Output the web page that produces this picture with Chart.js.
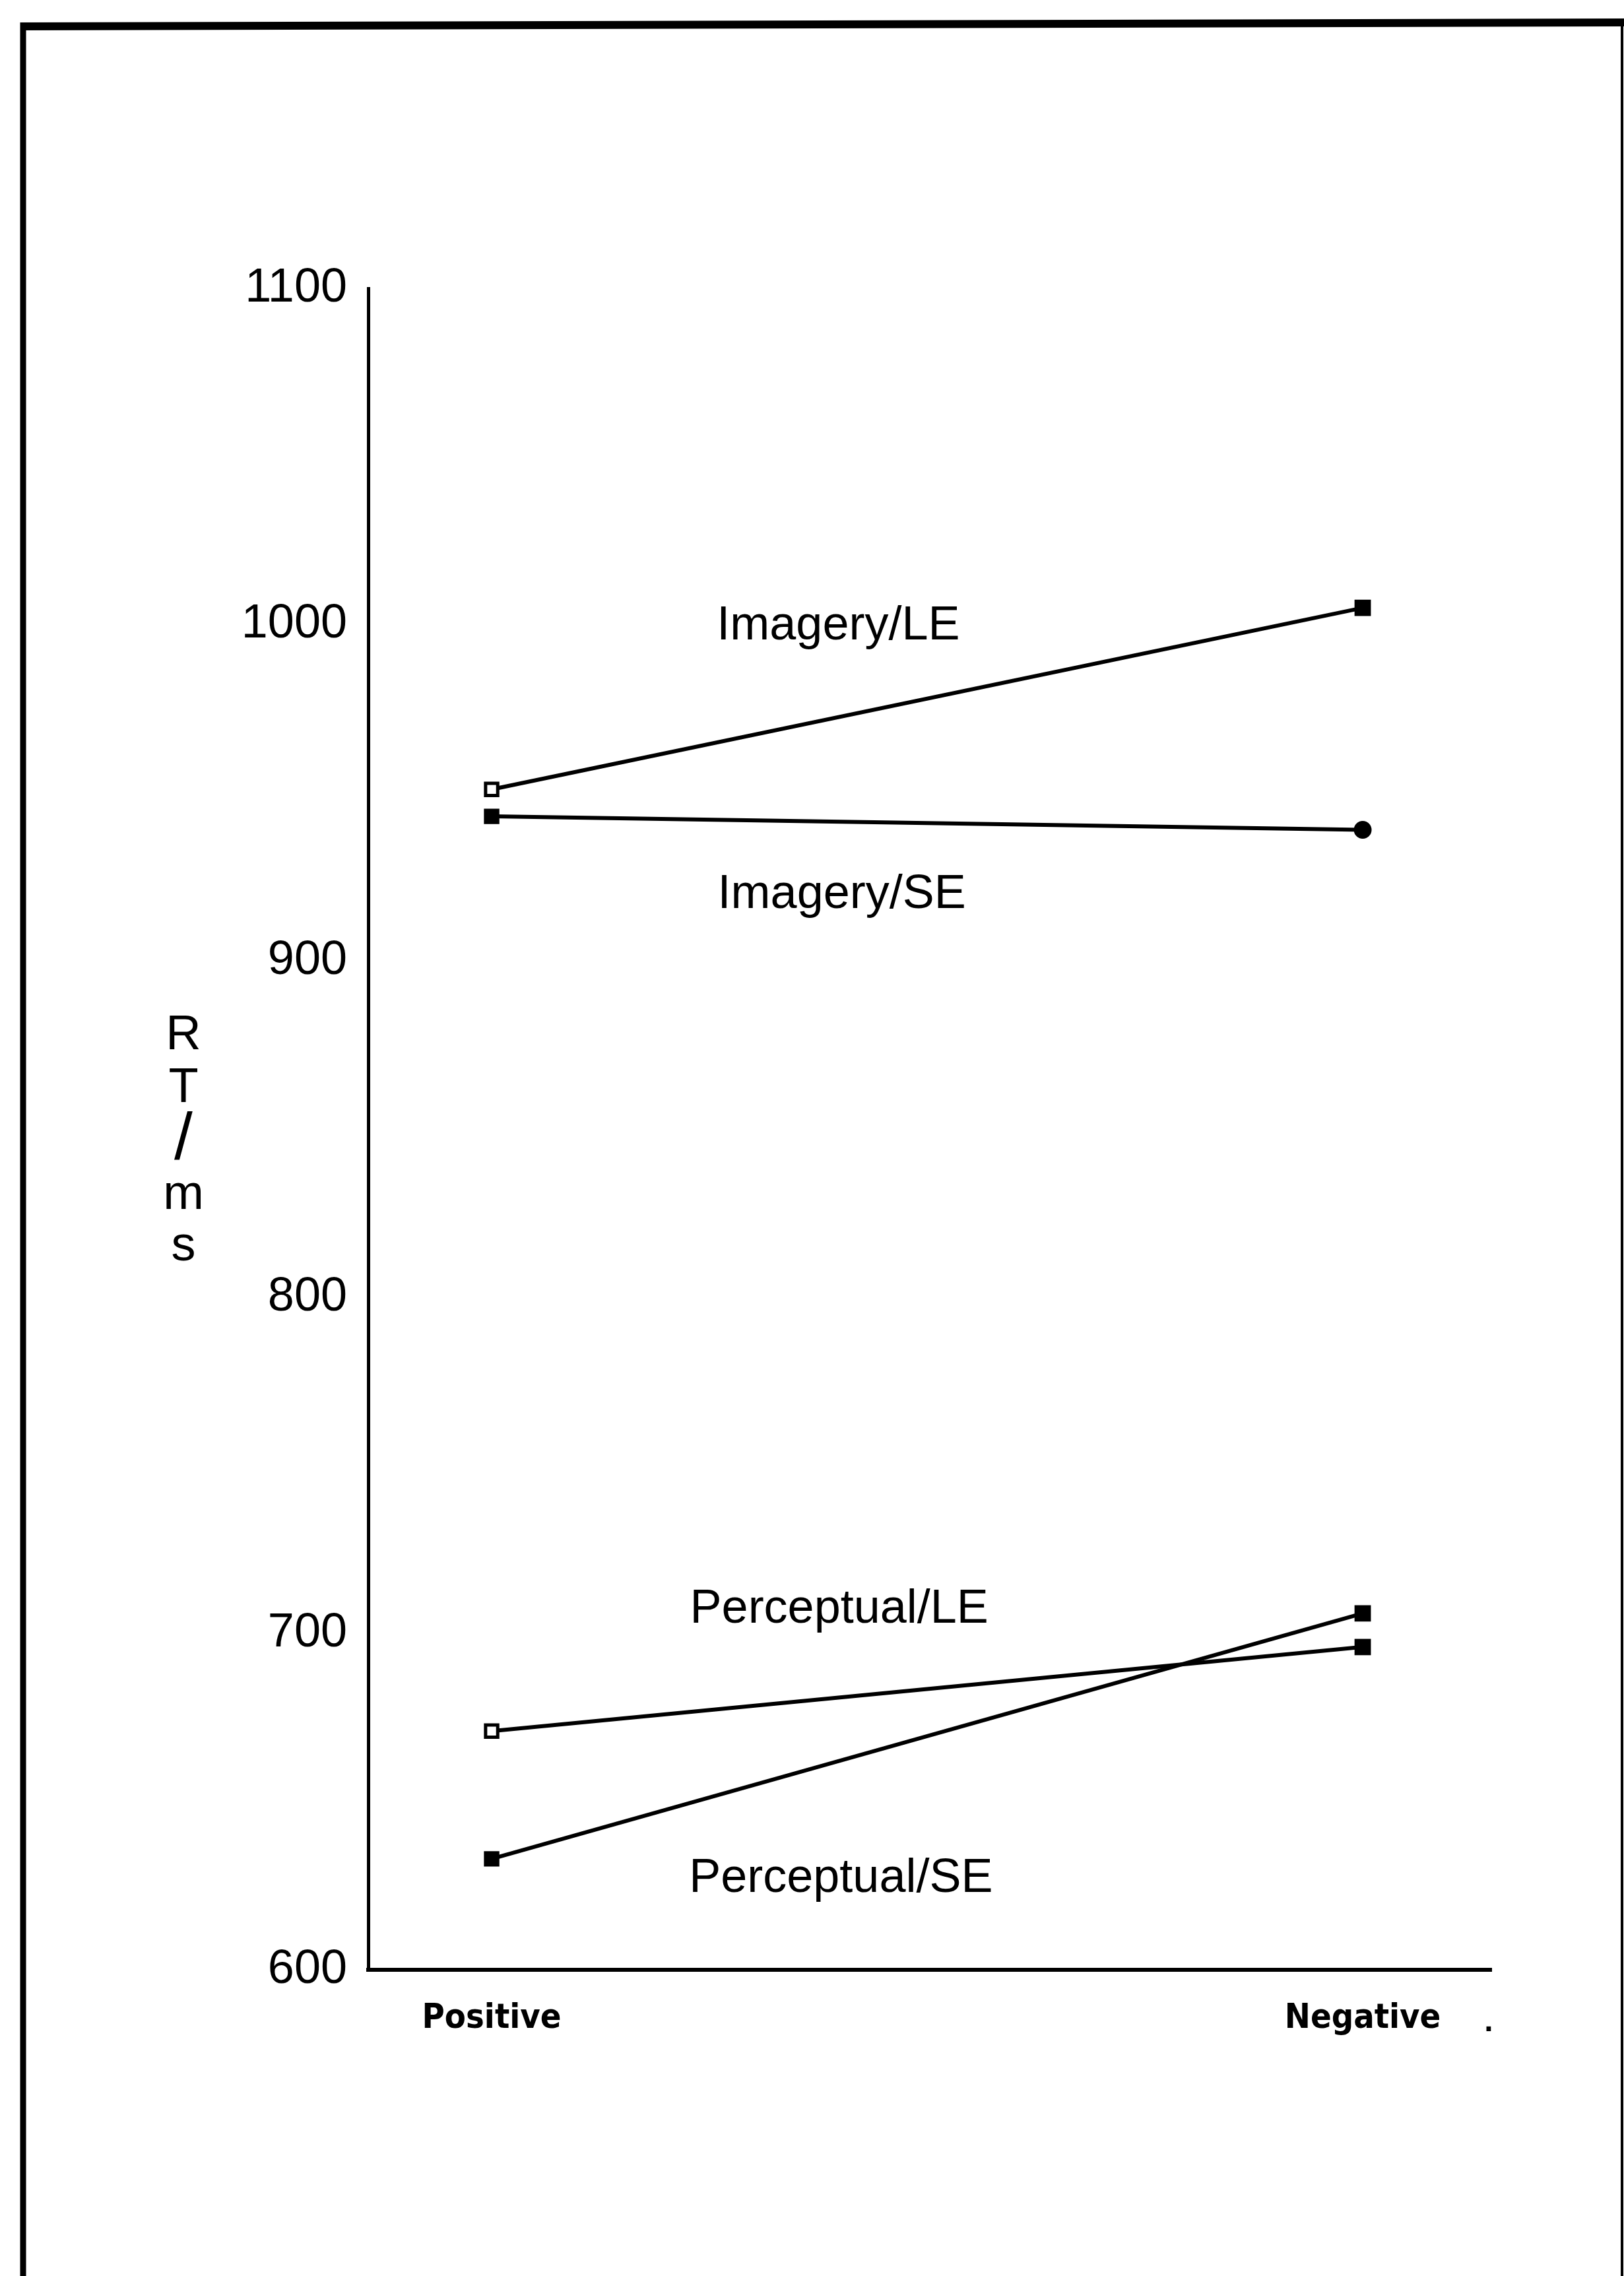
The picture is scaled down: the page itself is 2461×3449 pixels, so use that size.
<!DOCTYPE html>
<html>
<head>
<meta charset="utf-8">
<title>RT by condition</title>
<script src="https://cdn.jsdelivr.net/npm/chart.js@4.4.1/dist/chart.umd.min.js"></script>
<style>
  html, body { margin: 0; padding: 0; background: #fff; }
  #wrap { position: relative; width: 2461px; height: 3449px; }
  canvas { display: block; }
</style>
</head>
<body>
<div id="wrap"><canvas id="chart" width="2461" height="3449"></canvas></div>
<script>
// Conditions along the x axis
const categories = ['Positive', 'Negative'];

// Mean reaction times (ms) per series
const imageryLE = [951, 1005];
const imagerySE = [943, 939];
const perceptualLE = [671, 696];
const perceptualSE = [633, 706];

const seriesNames = ['Imagery/LE', 'Imagery/SE', 'Perceptual/LE', 'Perceptual/SE'];
const yTicks = [600, 700, 800, 900, 1000, 1100];
const yTitle = ['R', 'T', '/', 'm', 's'];

const toPoints = arr => arr.map((v, i) => ({ x: i, y: v }));

const INK = '#000';

function lineSet(label, values, openFirst, lastStyle) {
  return {
    label: label,
    data: toPoints(values),
    borderColor: INK,
    borderWidth: 6,
    pointStyle: ['rect', lastStyle],
    pointRadius: [13, lastStyle === 'circle' ? 11 : 14],
    pointBorderWidth: 5,
    pointBorderColor: INK,
    pointBackgroundColor: [openFirst ? '#fff' : INK, INK],
    tension: 0,
    fill: false
  };
}

// Series captions, frame and stacked axis title
const annotations = {
  id: 'annotations',
  afterDraw(chart) {
    const ctx = chart.ctx;
    const xs = chart.scales.x;
    const ys = chart.scales.y;
    ctx.save();
    ctx.fillStyle = INK;

    // series captions placed in data space
    const captions = [
      { text: seriesNames[0], x: 0.398, y: 995.6 },
      { text: seriesNames[1], x: 0.402, y: 915.7 },
      { text: seriesNames[2], x: 0.399, y: 703.2 },
      { text: seriesNames[3], x: 0.401, y: 623.2 }
    ];
    ctx.font = '72px "Liberation Sans", Arial, sans-serif';
    ctx.textAlign = 'center';
    ctx.textBaseline = 'alphabetic';
    captions.forEach(c => {
      ctx.fillText(c.text, xs.getPixelForValue(c.x), ys.getPixelForValue(c.y));
    });

    // stacked y-axis title
    const tx = 278;
    const baselines = [1590, 1670, 1757, 1832, 1910];
    yTitle.forEach((ch, i) => {
      ctx.font = (ch === '/' ? '100px' : '74px') + ' "Liberation Sans", Arial, sans-serif';
      ctx.fillText(ch, tx, baselines[i]);
    });

    // small mark at the end of the x axis
    ctx.font = 'bold 48px "Liberation Sans", Arial, sans-serif';
    ctx.fillText('.', chart.chartArea.right - 4, 3078);

    // page frame
    ctx.strokeStyle = INK;
    ctx.lineCap = 'butt';
    ctx.lineWidth = 12;
    ctx.beginPath();
    ctx.moveTo(31, 40);
    ctx.lineTo(2461, 34);
    ctx.stroke();
    ctx.lineWidth = 9;
    ctx.beginPath();
    ctx.moveTo(35, 34);
    ctx.lineTo(35, 3449);
    ctx.stroke();
    ctx.lineWidth = 4;
    ctx.beginPath();
    ctx.moveTo(2458, 30);
    ctx.lineTo(2458, 3449);
    ctx.stroke();
    ctx.restore();
  }
};

new Chart(document.getElementById('chart'), {
  type: 'line',
  data: {
    datasets: [
      lineSet(seriesNames[0], imageryLE, true, 'rect'),
      lineSet(seriesNames[1], imagerySE, false, 'circle'),
      lineSet(seriesNames[2], perceptualLE, true, 'rect'),
      lineSet(seriesNames[3], perceptualSE, false, 'rect')
    ]
  },
  options: {
    responsive: false,
    animation: false,
    devicePixelRatio: 1,
    layout: { padding: { left: 258, right: 201, top: 437, bottom: 304 } },
    plugins: {
      legend: { display: false },
      tooltip: { enabled: false },
      title: { display: false }
    },
    scales: {
      x: {
        type: 'linear',
        min: -0.1417,
        max: 1.1477,
        grid: { display: false, drawTicks: false },
        border: { display: true, color: INK, width: 6 },
        afterBuildTicks: scale => { scale.ticks = categories.map((c, i) => ({ value: i })); },
        afterFit: scale => { scale.height = 160; },
        ticks: {
          autoSkip: false,
          maxRotation: 0,
          padding: 43,
          color: INK,
          font: { family: '"DejaVu Sans Condensed", "Liberation Sans", sans-serif', size: 52, weight: 'bold' },
          callback: v => categories[v]
        }
      },
      y: {
        min: yTicks[0],
        max: yTicks[yTicks.length - 1],
        grid: { display: false, drawTicks: false },
        border: { display: true, color: INK, width: 5 },
        afterBuildTicks: scale => { scale.ticks = yTicks.map(v => ({ value: v })); },
        afterFit: scale => { scale.width = 300; },
        ticks: {
          padding: 32,
          color: INK,
          font: { family: '"Liberation Sans", Arial, sans-serif', size: 72 },
          callback: v => String(v)
        }
      }
    }
  },
  plugins: [annotations]
});
</script>
</body>
</html>
